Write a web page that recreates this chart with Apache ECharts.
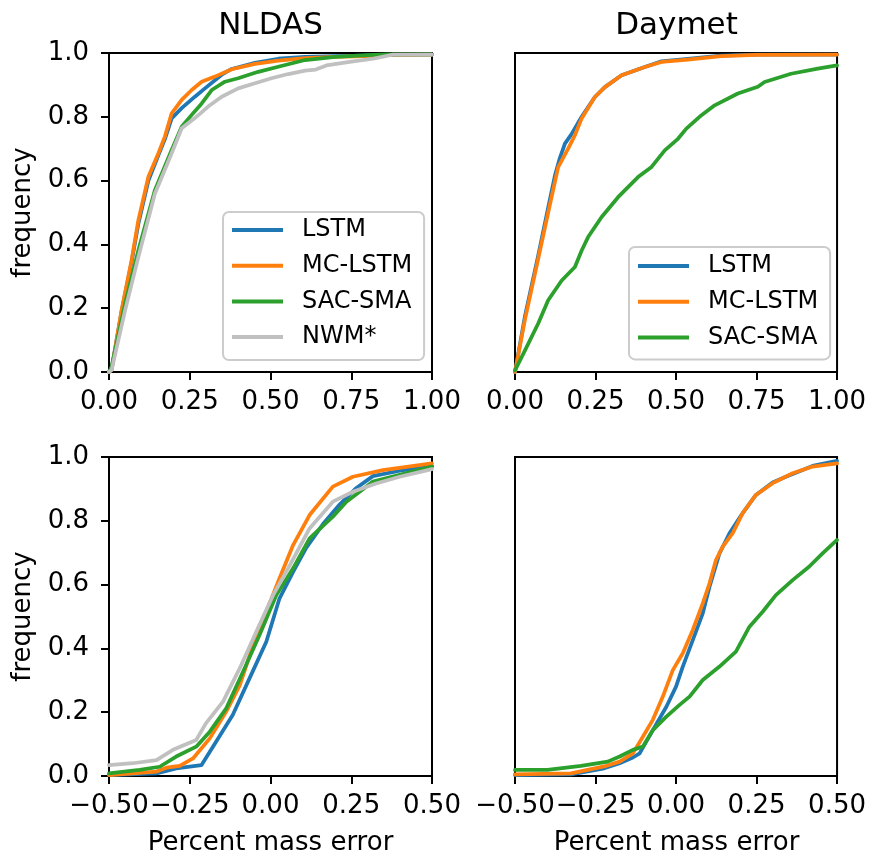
<!DOCTYPE html>
<html>
<head>
<meta charset="utf-8">
<script src="https://cdn.jsdelivr.net/npm/echarts@6/dist/echarts.min.js"></script>
<style>
html,body{margin:0;padding:0;background:#fff;}
#chart{width:869px;height:856px;}
</style>
</head>
<body>
<div id="chart"></div>
<script>
// ---------- data ----------
const panelTitles = ['NLDAS', 'Daymet'];
const seriesNames = ['LSTM', 'MC-LSTM', 'SAC-SMA', 'NWM*'];
const seriesColors = ['#1f77b4', '#ff7f0e', '#2ca02c', '#c0c0c0'];
const xLabelText = 'Percent mass error';
const yLabelText = 'frequency';

// Top row (x: 0..1)
const nldasTopLSTM = [[0,0],[0.008,0.01],[0.039,0.19],[0.07,0.345],[0.091,0.465],[0.122,0.6],[0.153,0.68],[0.173,0.73],[0.194,0.795],[0.225,0.827],[0.266,0.863],[0.297,0.889],[0.349,0.932],[0.38,0.95],[0.452,0.969],[0.524,0.982],[0.607,0.988],[0.7,0.99],[0.8,0.992],[0.88,0.994],[1,0.995]];
const nldasTopMC = [[0,0],[0.008,0.006],[0.039,0.194],[0.07,0.351],[0.091,0.476],[0.122,0.612],[0.153,0.686],[0.173,0.738],[0.194,0.811],[0.225,0.853],[0.256,0.884],[0.287,0.91],[0.328,0.926],[0.38,0.949],[0.452,0.966],[0.524,0.976],[0.607,0.984],[0.7,0.988],[0.79,0.99],[0.879,0.994],[1,0.995]];
const nldasTopSAC = [[0,0],[0.008,0.016],[0.05,0.215],[0.091,0.382],[0.142,0.57],[0.194,0.696],[0.225,0.769],[0.256,0.806],[0.287,0.842],[0.318,0.884],[0.359,0.91],[0.4,0.921],[0.462,0.941],[0.524,0.957],[0.607,0.978],[0.7,0.988],[0.8,0.993],[0.86,0.996],[1,0.996]];
const nldasTopNWM = [[0,0],[0.008,0.006],[0.05,0.194],[0.091,0.361],[0.142,0.559],[0.194,0.686],[0.225,0.764],[0.266,0.796],[0.307,0.832],[0.349,0.863],[0.4,0.889],[0.452,0.905],[0.503,0.921],[0.555,0.934],[0.607,0.945],[0.64,0.948],[0.673,0.961],[0.745,0.972],[0.817,0.982],[0.879,0.995],[1,0.995]];

const daymetTopLSTM = [[0,0],[0.031,0.175],[0.072,0.365],[0.103,0.515],[0.125,0.62],[0.139,0.67],[0.155,0.716],[0.175,0.745],[0.207,0.8],[0.248,0.862],[0.279,0.893],[0.331,0.93],[0.403,0.956],[0.455,0.974],[0.537,0.982],[0.64,0.992],[0.75,0.995],[1,0.995]];
const daymetTopMC = [[0,0],[0.031,0.165],[0.072,0.355],[0.103,0.5],[0.134,0.642],[0.165,0.7],[0.185,0.74],[0.207,0.795],[0.248,0.862],[0.279,0.893],[0.331,0.93],[0.403,0.956],[0.455,0.972],[0.537,0.979],[0.64,0.99],[0.75,0.994],[1,0.995]];
const daymetTopSAC = [[0,0.005],[0.031,0.068],[0.072,0.152],[0.103,0.225],[0.145,0.287],[0.186,0.329],[0.207,0.381],[0.227,0.423],[0.269,0.486],[0.32,0.548],[0.382,0.611],[0.424,0.643],[0.465,0.695],[0.506,0.731],[0.532,0.763],[0.579,0.805],[0.62,0.836],[0.692,0.873],[0.754,0.894],[0.775,0.909],[0.857,0.935],[0.94,0.951],[1,0.961]];

// Bottom row (x: -0.5..0.5)
const nldasBotLSTM = [[-0.5,0.003],[-0.353,0.008],[-0.292,0.024],[-0.214,0.034],[-0.168,0.108],[-0.117,0.191],[-0.065,0.306],[-0.013,0.421],[0.028,0.557],[0.07,0.64],[0.111,0.716],[0.162,0.789],[0.214,0.851],[0.266,0.903],[0.317,0.94],[0.4,0.957],[0.5,0.971]];
const nldasBotMC = [[-0.5,0.003],[-0.353,0.014],[-0.322,0.026],[-0.281,0.032],[-0.24,0.055],[-0.188,0.118],[-0.137,0.202],[-0.095,0.285],[-0.054,0.41],[-0.013,0.515],[0.028,0.62],[0.07,0.724],[0.121,0.818],[0.193,0.907],[0.255,0.938],[0.348,0.959],[0.5,0.98]];
const nldasBotSAC = [[-0.5,0.008],[-0.405,0.019],[-0.343,0.029],[-0.292,0.061],[-0.23,0.092],[-0.188,0.139],[-0.137,0.212],[-0.085,0.327],[-0.034,0.442],[0.018,0.567],[0.07,0.651],[0.121,0.745],[0.193,0.813],[0.235,0.86],[0.276,0.891],[0.317,0.923],[0.4,0.944],[0.5,0.97]];
const nldasBotNWM = [[-0.5,0.034],[-0.426,0.04],[-0.353,0.05],[-0.302,0.082],[-0.23,0.113],[-0.2,0.165],[-0.147,0.233],[-0.095,0.338],[-0.044,0.452],[0.008,0.567],[0.06,0.661],[0.121,0.776],[0.193,0.86],[0.255,0.891],[0.327,0.917],[0.4,0.938],[0.5,0.962]];

const daymetBotLSTM = [[-0.5,0.003],[-0.326,0.005],[-0.223,0.024],[-0.175,0.04],[-0.134,0.058],[-0.113,0.071],[-0.072,0.144],[-0.03,0.217],[0.0,0.28],[0.021,0.343],[0.052,0.426],[0.083,0.51],[0.104,0.593],[0.135,0.698],[0.166,0.761],[0.207,0.824],[0.248,0.881],[0.3,0.92],[0.341,0.938],[0.424,0.972],[0.5,0.988]];
const daymetBotMC = [[-0.5,0.005],[-0.326,0.008],[-0.223,0.03],[-0.175,0.045],[-0.134,0.071],[-0.103,0.123],[-0.072,0.176],[-0.041,0.249],[-0.01,0.332],[0.021,0.385],[0.052,0.458],[0.083,0.541],[0.104,0.604],[0.124,0.677],[0.145,0.719],[0.176,0.761],[0.207,0.824],[0.248,0.881],[0.3,0.918],[0.362,0.949],[0.424,0.97],[0.5,0.98]];
const daymetBotSAC = [[-0.5,0.019],[-0.399,0.019],[-0.295,0.032],[-0.212,0.045],[-0.175,0.061],[-0.134,0.082],[-0.103,0.092],[-0.072,0.144],[-0.03,0.186],[0.011,0.223],[0.042,0.249],[0.083,0.301],[0.135,0.343],[0.186,0.39],[0.228,0.468],[0.269,0.515],[0.31,0.567],[0.362,0.614],[0.413,0.656],[0.455,0.698],[0.5,0.74]];

const topXTicks = [0, 1, 0.25];      // min, max, interval
const botXTicks = [-0.5, 0.5, 0.25];
const yTicks = [0, 1, 0.2];

// ---------- chart ----------
const FONT = 'DejaVu Sans';
const chart = echarts.init(document.getElementById('chart'), null, {renderer: 'canvas'});

const grids = [
  {left: 109, top: 53, width: 323, height: 319},
  {left: 515, top: 53, width: 323, height: 319},
  {left: 109, top: 457, width: 323, height: 319},
  {left: 515, top: 457, width: 323, height: 319}
].map(g => Object.assign(g, {show: true, borderColor: '#000', borderWidth: 2, backgroundColor: 'transparent', containLabel: false}));

function fmt2(v) { return v.toFixed(2).replace('-', '\u2212'); }
function fmt1(v) { return v.toFixed(1).replace('-', '\u2212'); }

const xAxes = [0,1,2,3].map(i => {
  const t = i < 2 ? topXTicks : botXTicks;
  return {
    type: 'value', gridIndex: i, min: t[0], max: t[1], interval: t[2],
    splitLine: {show: false},
    axisLine: {show: true, onZero: false, lineStyle: {color: '#000', width: 2}},
    axisTick: {show: true, length: 8, lineStyle: {color: '#000', width: 2}},
    axisLabel: {show: true, formatter: fmt2, margin: 17, color: '#000', fontSize: 26, fontFamily: FONT, showMinLabel: true, showMaxLabel: true, hideOverlap: false}
  };
});
const yAxes = [0,1,2,3].map(i => {
  const left = (i % 2 === 0);
  return {
    type: 'value', gridIndex: i, min: yTicks[0], max: yTicks[1], interval: yTicks[2],
    splitLine: {show: false},
    axisLine: {show: true, onZero: false, lineStyle: {color: '#000', width: 2}},
    axisTick: {show: left, length: 8, lineStyle: {color: '#000', width: 2}},
    axisLabel: {show: left, formatter: fmt1, margin: 20, color: '#000', fontSize: 26, fontFamily: FONT}
  };
});

const panelData = [
  [nldasTopLSTM, nldasTopMC, nldasTopSAC, nldasTopNWM],
  [daymetTopLSTM, daymetTopMC, daymetTopSAC],
  [nldasBotLSTM, nldasBotMC, nldasBotSAC, nldasBotNWM],
  [daymetBotLSTM, daymetBotMC, daymetBotSAC]
];
const series = [];
panelData.forEach((arr, gi) => {
  arr.forEach((d, si) => {
    series.push({
      type: 'line', name: seriesNames[si], xAxisIndex: gi, yAxisIndex: gi,
      data: d, showSymbol: false, symbol: 'none', smooth: false, animation: false,
      lineStyle: {color: seriesColors[si], width: 3.75, cap: 'round', join: 'round'},
      itemStyle: {color: seriesColors[si]},
      z: 2 + si
    });
  });
});

const legendCommon = {
  orient: 'vertical', icon: 'rect', itemWidth: 51, itemHeight: 4,
  itemGap: 9.7, backgroundColor: '#fff', borderColor: '#cccccc', borderWidth: 2, borderRadius: 6,
  selectedMode: false,
  textStyle: {fontSize: 24, fontFamily: FONT, color: '#000', lineHeight: 26, padding: [0,0,0,14]}
};
const legends = [
  Object.assign({}, legendCommon, {left: 223, top: 212, padding: [5, 12, 10, 9], data: seriesNames.slice(0,4)}),
  Object.assign({}, legendCommon, {left: 629, top: 247, padding: [6, 12, 9, 9], data: seriesNames.slice(0,3)})
];

function txt(x, y, s, size, rot) {
  return {type: 'text', x: x, y: y, rotation: rot || 0, silent: true,
    style: {text: s, fontSize: size, fontFamily: FONT, fill: '#000', align: 'center', verticalAlign: 'middle'}};
}

const option = {
  animation: false,
  backgroundColor: '#fff',
  grid: grids,
  xAxis: xAxes,
  yAxis: yAxes,
  legend: legends,
  series: series,
  graphic: [
    txt(270.5, 26, panelTitles[0], 31),
    txt(676.5, 26, panelTitles[1], 31),
    txt(23, 212.5, yLabelText, 26, Math.PI / 2),
    txt(23, 616.5, yLabelText, 26, Math.PI / 2),
    txt(270.5, 843, xLabelText, 26),
    txt(676.5, 843, xLabelText, 26)
  ]
};
chart.setOption(option);
</script>
</body>
</html>
